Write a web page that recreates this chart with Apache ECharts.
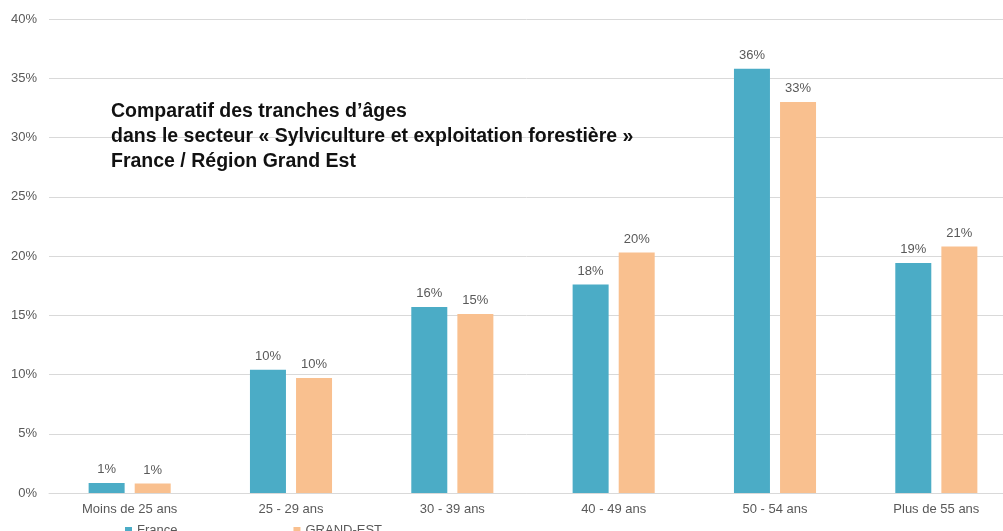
<!DOCTYPE html>
<html>
<head>
<meta charset="utf-8">
<script src="https://cdn.jsdelivr.net/npm/echarts@6/dist/echarts.min.js"></script>
<style>
  html, body { margin: 0; padding: 0; background: #fff; }
  #chart { width: 1003px; height: 531px; }
</style>
</head>
<body>
<div id="chart"></div>
<script>
// tranches d'âges
const categories = ['Moins de 25 ans', '25 - 29 ans', '30 - 39 ans', '40 - 49 ans', '50 - 54 ans', 'Plus de 55 ans']
const france = [0.85, 10.4, 15.7, 17.6, 35.8, 19.4]
const grandEst = [0.8, 9.7, 15.1, 20.3, 33.0, 20.8]
const yTicks = [0, 5, 10, 15, 20, 25, 30, 35, 40]

const chart = echarts.init(document.getElementById('chart'))

const font = 'Liberation Sans, Arial, sans-serif'

const barLabel = {
  show: true,
  position: 'top',
  distance: 7,
  color: '#595959',
  fontSize: 13,
  fontFamily: font,
  formatter: (p) => Math.round(p.value) + '%',
}

const option = {
  animation: false,
  title: {
    text: 'Comparatif des tranches d’âges\ndans le secteur « Sylviculture et exploitation forestière »\nFrance / Région Grand Est',
    left: 106,
    top: 94,
    textStyle: {
      fontFamily: font,
      fontWeight: 'bold',
      fontSize: 19.5,
      lineHeight: 25,
      color: '#111',
    },
  },
  legend: {
    data: ['France', 'GRAND-EST'],
    left: 120,
    top: 519,
    itemWidth: 7,
    itemHeight: 7,
    itemGap: 116,
    icon: 'rect',
    textStyle: {
      color: '#595959',
      fontSize: 13,
      fontFamily: font,
    },
  },
  // the plot runs past the right edge of the picture
  grid: { left: 49, right: -14, top: 19, bottom: 38, outerBoundsMode: 'none', containLabel: false },
  xAxis: {
    type: 'category',
    data: categories,
    axisTick: { show: false },
    axisLine: { lineStyle: { color: '#d9d9d9', width: 1 } },
    axisLabel: {
      color: '#595959',
      fontSize: 13,
      margin: 10,
      fontFamily: font,
    },
  },
  yAxis: {
    type: 'value',
    min: yTicks[0],
    max: yTicks[yTicks.length - 1],
    interval: 5,
    axisLine: { show: false },
    axisTick: { show: false },
    axisLabel: {
      formatter: '{value}%',
      color: '#595959',
      fontSize: 13,
      margin: 12,
      fontFamily: font,
    },
    splitLine: { lineStyle: { color: '#d9d9d9', width: 1 } },
  },
  series: [
    {
      name: 'France',
      type: 'bar',
      data: france,
      barWidth: 36,
      barGap: '28%',
      itemStyle: { color: '#4bacc6' },
      label: barLabel,
    },
    {
      name: 'GRAND-EST',
      type: 'bar',
      data: grandEst,
      barWidth: 36,
      itemStyle: { color: '#f9c08f' },
      label: barLabel,
    },
  ],
}

chart.setOption(option)
</script>
</body>
</html>
